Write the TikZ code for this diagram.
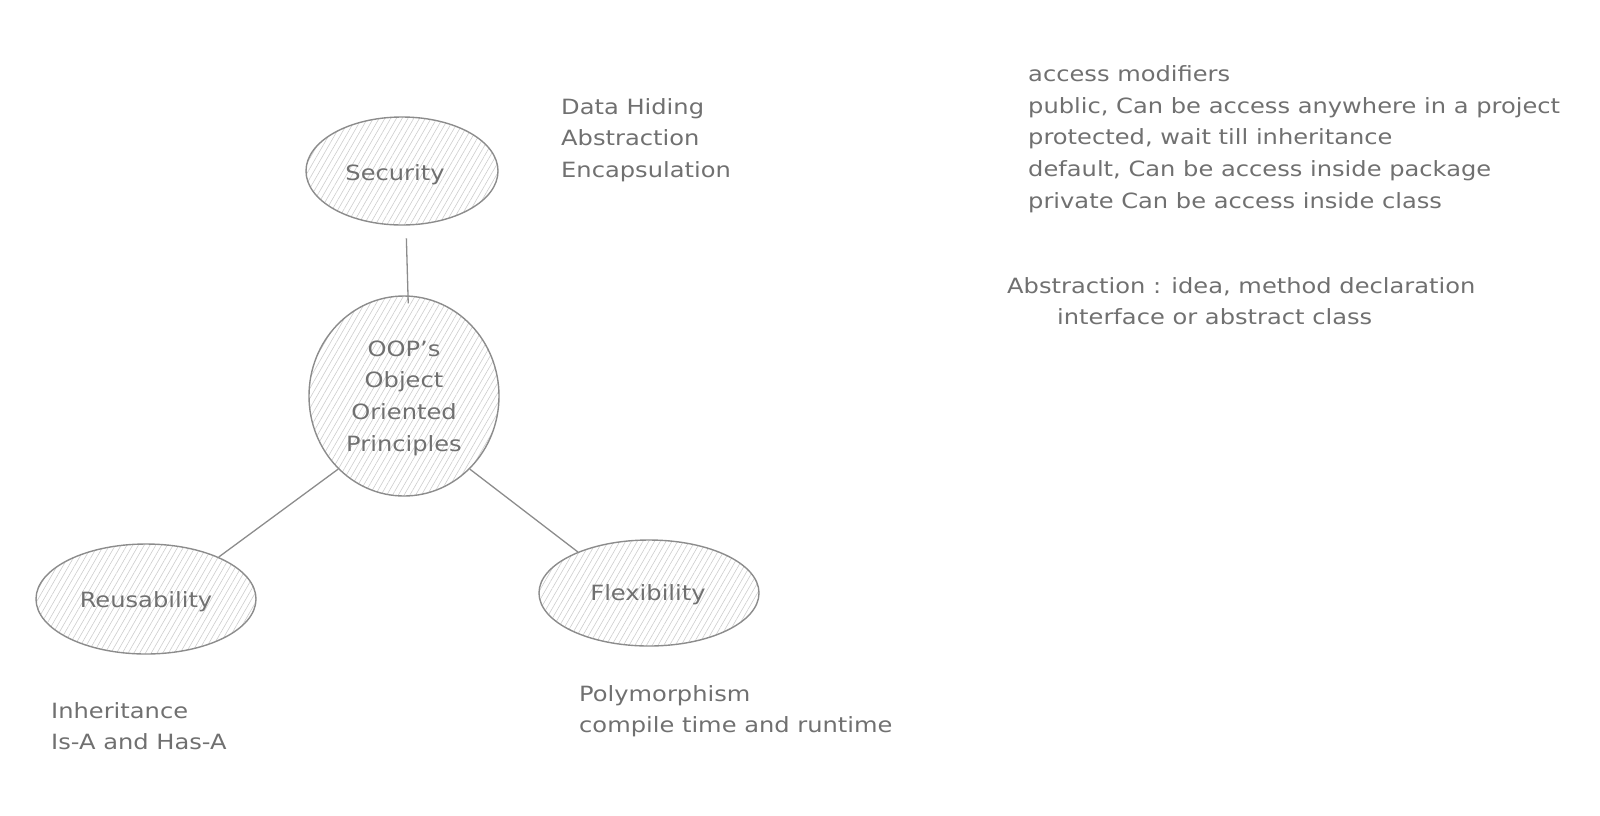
\documentclass[tikz,border=0pt]{standalone}
\usepackage{fontspec}
\setmainfont{DejaVu Sans}[FakeStretch=1.15]
\usetikzlibrary{shapes.geometric,patterns.meta}

\definecolor{sketch}{RGB}{140,140,140}
\definecolor{ink}{RGB}{112,112,112}
\definecolor{hatch}{RGB}{205,205,205}

\begin{document}
\begin{tikzpicture}[x=1pt,y=-1pt,
        bubble/.style={ellipse,draw=sketch,line width=1.4pt,
            pattern={Lines[angle=60,distance=5pt,line width=0.6pt]},pattern color=hatch,
            text=ink,font=\fontsize{21}{31.6}\selectfont,align=center,inner sep=0pt},
        note/.style={anchor=west,text=ink,font=\fontsize{21}{31.6}\selectfont,
            align=left,inner sep=0pt},
        link/.style={draw=sketch,line width=1.3pt}]
        \useasboundingbox (0,0) rectangle (1600,815);

        \coordinate (S) at (402,171);
        \coordinate (O) at (404,396);
        \coordinate (R) at (146,599);
        \coordinate (F) at (649,593);

        \node[bubble,minimum width=192,minimum height=108] (sec)   at (S) {};
        \node[bubble,minimum width=190,minimum height=200] (oop)   at (O) {};
        \node[bubble,minimum width=220,minimum height=110] (reuse) at (R) {};
        \node[bubble,minimum width=220,minimum height=106] (flex)  at (F) {};

        \node[text=ink,font=\fontsize{21}{31.6}\selectfont] at (395,175) {Security};
        \node[text=ink,font=\fontsize{21}{31.6}\selectfont,align=center] at (404,398)
            {OOP's\\Object\\Oriented\\Principles};
        \node[text=ink,font=\fontsize{21}{31.6}\selectfont] at (146,602) {Reusability};
        \node[text=ink,font=\fontsize{21}{31.6}\selectfont] at (648,595) {Flexibility};

        \draw[link,shorten <=13pt,shorten >=-8pt] ([xshift=4pt]sec.south) -- ([xshift=4pt]oop.north);
        \draw[link] (oop.228) -- (reuse.30);
        \draw[link] (oop.312) -- (flex.150);

        \node[note] (hiding)  at (561,140) {Data Hiding\\Abstraction\\Encapsulation};
        \node[note] (access)  at (1028,139) {access modifiers\\public, Can be access anywhere in a project\\protected, wait till inheritance\\default, Can be access inside package\\private Can be access inside class};
        \node[note] (abstr)   at (1007,301) {Abstraction : idea, method declaration\\\hspace*{50pt}interface or abstract class};
        \node[note] (inherit) at (51,726)  {Inheritance\\Is-A and Has-A};
        \node[note] (poly)    at (579,711) {Polymorphism\\compile time and runtime};
    \end{tikzpicture}
\end{document}
